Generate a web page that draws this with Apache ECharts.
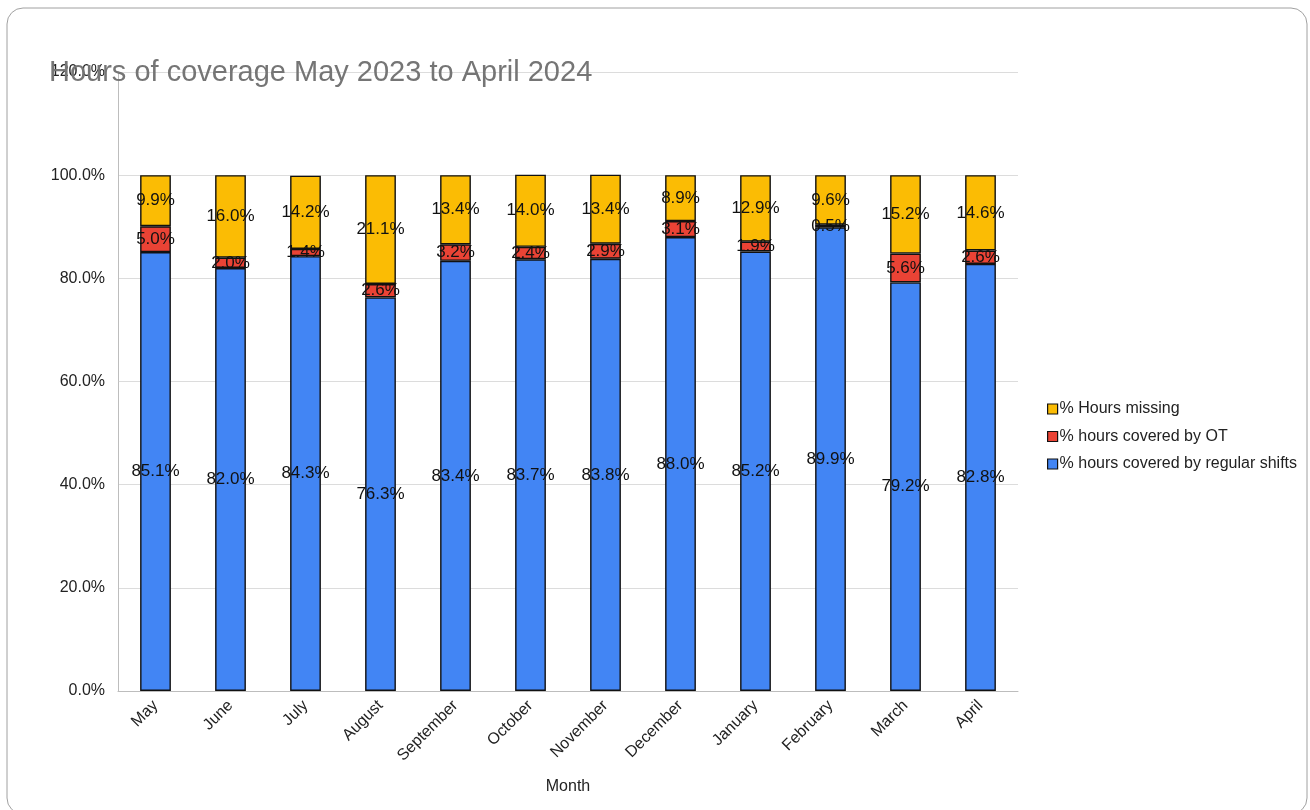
<!DOCTYPE html>
<html>
<head>
<meta charset="utf-8">
<script src="https://cdn.jsdelivr.net/npm/echarts@6/dist/echarts.min.js"></script>
<style>
html,body{margin:0;padding:0;background:#fff;}
#chart{width:1310px;height:810px;}
</style>
</head>
<body>
<div id="chart"></div>
<script>
const months = ['May','June','July','August','September','October','November','December','January','February','March','April'];
const regularShifts = [85.1, 82.0, 84.3, 76.3, 83.4, 83.7, 83.8, 88.0, 85.2, 89.9, 79.2, 82.8];
const overtime = [5.0, 2.0, 1.4, 2.6, 3.2, 2.4, 2.9, 3.1, 1.9, 0.5, 5.6, 2.6];
const missing = [9.9, 16.0, 14.2, 21.1, 13.4, 14.0, 13.4, 8.9, 12.9, 9.6, 15.2, 14.6];
const seriesNames = ['% hours covered by regular shifts','% hours covered by OT','% Hours missing'];
const colors = ['#4285F4','#EA4335','#FBBC04'];

const FONT = 'Liberation Sans';
const chart = echarts.init(document.getElementById('chart'), null, {renderer:'canvas'});

function mk(name, data, color){
  return {
    name: name, type: 'bar', stack: 'total', data: data, barWidth: '41%',
    itemStyle: {color: color, borderColor: '#111', borderWidth: 1.4},
    label: {show: true, position: 'inside', color: '#111', fontSize: 17, fontFamily: FONT,
      formatter: p => p.value.toFixed(1) + '%'}
  };
}

chart.setOption({
  animation: false,
  textStyle: {fontFamily: FONT},
  graphic: [{
    type: 'rect', left: 4.5, top: 5.5, z: -10,
    shape: {width: 1300, height: 806, r: 16},
    style: {fill: 'none', stroke: '#a0a0a0', lineWidth: 1}
  }],
  title: {
    text: 'Hours of coverage May 2023 to April 2024',
    left: 44, top: 53,
    textStyle: {fontSize: 29, fontWeight: 'normal', color: '#757575', fontFamily: FONT}
  },
  legend: {
    orient: 'vertical', left: 1042, top: 396,
    itemWidth: 10, itemHeight: 10, itemGap: 11.5,
    icon: 'rect',
    data: ['% Hours missing','% hours covered by OT','% hours covered by regular shifts'],
    itemStyle: {borderColor: '#111', borderWidth: 1.2},
    textStyle: {fontSize: 16, color: '#222', fontFamily: FONT, padding: [0,0,0,-3]}
  },
  grid: {left: 118, right: 292, top: 72, bottom: 119},
  xAxis: {
    type: 'category', data: months,
    name: 'Month', nameLocation: 'middle', nameGap: 88,
    nameTextStyle: {fontSize: 16, color: '#222', fontFamily: FONT},
    axisLine: {show: true, lineStyle: {color: '#bdbdbd'}},
    axisTick: {show: false},
    axisLabel: {rotate: 45, fontSize: 16, color: '#222', margin: 12, interval: 0, fontFamily: FONT}
  },
  yAxis: {
    type: 'value', min: 0, max: 120, interval: 20,
    axisLine: {show: true, lineStyle: {color: '#bdbdbd'}},
    axisTick: {show: false},
    splitLine: {lineStyle: {color: '#dcdcdc'}},
    axisLabel: {fontSize: 16, color: '#222', margin: 13, fontFamily: FONT,
      formatter: v => v.toFixed(1) + '%'}
  },
  series: [
    mk(seriesNames[0], regularShifts, colors[0]),
    mk(seriesNames[1], overtime, colors[1]),
    mk(seriesNames[2], missing, colors[2])
  ]
});
</script>
</body>
</html>
